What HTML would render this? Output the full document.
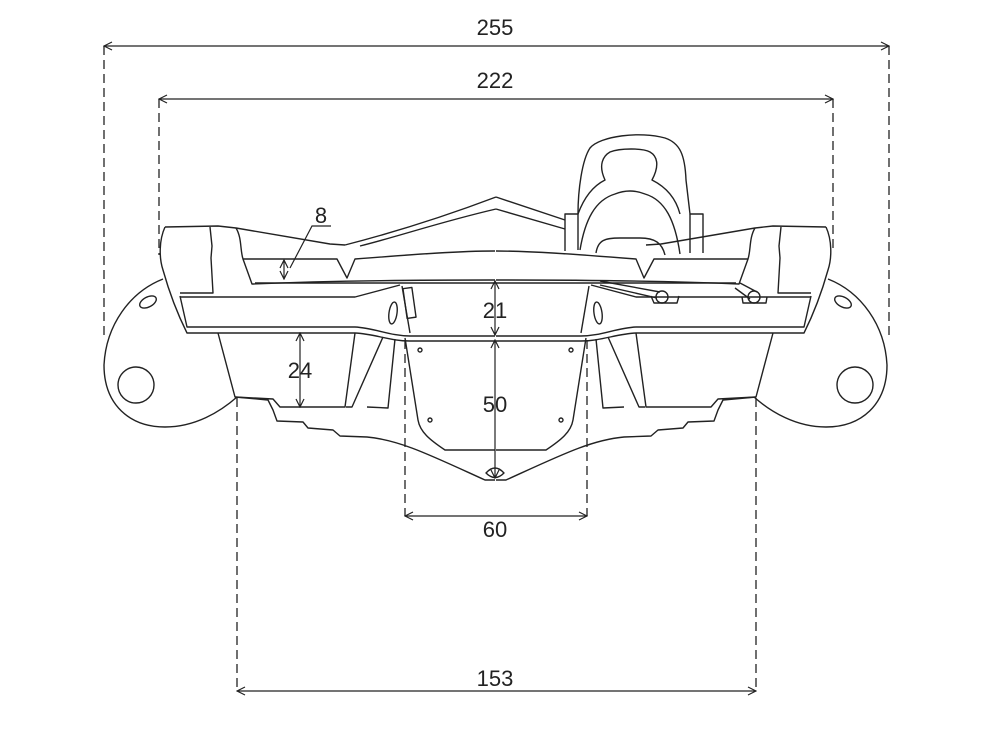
<!DOCTYPE html>
<html><head><meta charset="utf-8"><style>
html,body{margin:0;padding:0;background:#fff}
svg{display:block}
text{font-family:"Liberation Sans",Arial,sans-serif;font-size:22px;fill:#222;text-anchor:middle}
.l{fill:none;stroke:#222;stroke-width:1.4;stroke-linejoin:round}
.d{fill:none;stroke:#222;stroke-width:1.3;stroke-dasharray:9,5}
.a{fill:none;stroke:#222;stroke-width:1.2}
</style></head><body>
<svg width="987" height="734" viewBox="0 0 987 734" xmlns="http://www.w3.org/2000/svg">
<defs>
<marker id="ar" markerWidth="10" markerHeight="10" refX="9" refY="5" orient="auto-start-reverse" markerUnits="userSpaceOnUse">
<path d="M1,1 L9,5 L1,9" fill="none" stroke="#222" stroke-width="1.2"/></marker>
</defs>
<path class="d" d="M104,46 V335 M889,46 V335 M159,99 V255 M833,99 V250 M237,398 V691 M756,398 V691 M405,340 V516 M587,340 V516"/>
<path class="a" d="M104,46 H889" marker-start="url(#ar)" marker-end="url(#ar)"/>
<path class="a" d="M159,99 H833" marker-start="url(#ar)" marker-end="url(#ar)"/>
<path class="a" d="M237,691 H756" marker-start="url(#ar)" marker-end="url(#ar)"/>
<path class="a" d="M405,516 H587" marker-start="url(#ar)" marker-end="url(#ar)"/>
<path class="a" d="M495,281 V335" marker-start="url(#ar)" marker-end="url(#ar)"/>
<path class="a" d="M495,340 V478" marker-start="url(#ar)" marker-end="url(#ar)"/>
<path class="a" d="M300,333 V407" marker-start="url(#ar)" marker-end="url(#ar)"/>
<path class="a" d="M284,260 V279" marker-start="url(#ar)" marker-end="url(#ar)"/>
<path class="a" d="M290,268 L312,226 H331"/>
<text x="495" y="35">255</text>
<text x="495" y="88">222</text>
<text x="495" y="686">153</text>
<text x="495" y="537">60</text>
<text x="495" y="318">21</text>
<text x="495" y="412">50</text>
<text x="300" y="378">24</text>
<text x="321" y="223">8</text>

<g id="half">
<path class="l" d="M163,279 C130,292 106,325 104,365 C104,405 130,427 165,427 C195,427 220,412 237,397"/>
<circle class="l" cx="136" cy="385" r="18"/>
<ellipse class="l" cx="148" cy="302" rx="9" ry="5" transform="rotate(-28 148 302)"/>
<path class="l" d="M165,227 L218,226 L236,228 L330,244 L345,245"/>
<path class="l" d="M165,227 C159,240 159,258 163,270 C170,295 178,315 187,333 L355,333 C375,334 390,341 410,341 L495,341"/>
<path class="l" d="M180,296 L187,327 L355,327 C375,328 390,336 410,336 L495,336"/>
<path class="l" d="M180,293 H213 L211,258 L212,246 L210,227"/>
<path class="l" d="M180,297 H355 L400,285"/>
<path class="l" d="M236,228 C242,238 240,250 243,259 L337,259 L347,278 L355,259 C420,254 460,251 495,251"/>
<path class="l" d="M243,259 L252,284 C320,281 420,280 495,280"/>
<path class="l" d="M255,283 C320,283 420,283 495,283"/>
<path class="l" d="M218,333 L235,397 L273,399 L280,407 L345,407 L355,333"/>
<path class="l" d="M346,407 L352,407 L383,337 M367,407 L388,408 L395,339"/>
<path class="l" d="M235,397 L268,400 L273,410 L277,421 L303,422 L308,428 L333,430 L340,436 L367,437 C400,440 430,455 485,480 L495,480"/>
<path class="l" d="M405,338 L418,420 C420,432 430,440 445,450 L495,450"/>
<path class="l" d="M402,286 L410,333"/>
<ellipse class="l" cx="393" cy="313" rx="4" ry="11" transform="rotate(8 393 313)"/>
<circle class="l" cx="420" cy="350" r="2"/>
<circle class="l" cx="430" cy="420" r="2"/>
</g>
<use href="#half" transform="translate(991,0) scale(-1,1)"/>
<rect class="l" x="405" y="288" width="9" height="30" transform="rotate(-8 409 303)"/>
<path class="l" d="M345,245 C380,236 430,222 496,197 M360,246 C400,236 440,222 496,209"/>
<g class="l">
<path d="M600,281 L660,292 M600,285 L657,298 M740,283 L757,292 M735,288 L750,299"/>
<path d="M651,296 L654,303 L677,303 L679,296 M742,297 L743,303 L766,303 L767,297"/>
<circle cx="662" cy="297" r="6"/>
<circle cx="754" cy="297" r="6"/>
</g>
<g class="l">
<path d="M496,197 L565,220 M496,209 L565,229"/>
<path d="M565,251 V214 H578 C578,190 582,160 590,148 C600,136 640,131 665,138 C680,143 685,155 686,180 L690,214 H703 V253"/>
<path d="M578,214 V250 M690,214 V253"/>
<path d="M578,214 C585,195 595,185 605,180 C598,165 603,156 610,152 C620,148 643,148 650,152 C657,156 660,165 652,180 C662,185 675,195 680,214"/>
<path d="M580,250 C585,220 595,200 615,194 Q630,188 645,194 C665,200 675,220 680,254"/>
<path d="M596,253 C598,240 605,238 620,238 H640 C655,238 662,243 665,255"/>
</g>
<path class="l" d="M486,473 Q495,463 504,473 Q495,482 486,473 Z"/>
</svg>
</body></html>
